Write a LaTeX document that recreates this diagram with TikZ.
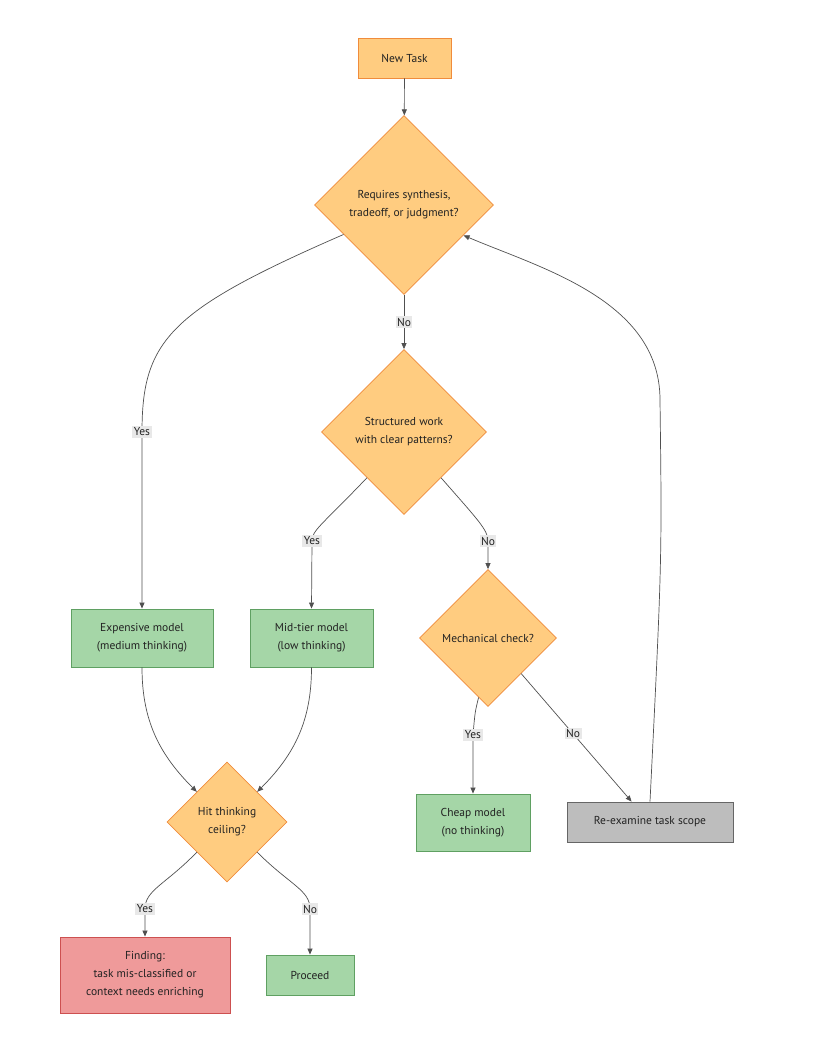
\documentclass[tikz,border=0pt]{standalone}
\usepackage{fontspec}
\setmainfont{PT Sans}
\usepackage{xcolor}
\usepackage{tikz}
\usetikzlibrary{shapes.geometric,arrows.meta}

\definecolor{orangefill}{RGB}{255,204,128}
\definecolor{orangeline}{RGB}{240,140,60}
\definecolor{greenfill}{RGB}{165,214,167}
\definecolor{greenline}{RGB}{95,160,98}
\definecolor{redfill}{RGB}{239,154,154}
\definecolor{redline}{RGB}{205,80,80}
\definecolor{grayfill}{RGB}{189,189,189}
\definecolor{grayline}{RGB}{102,102,102}
\definecolor{textgray}{RGB}{34,34,34}
\definecolor{linkgray}{RGB}{80,80,80}
\definecolor{labelfill}{RGB}{232,232,232}

\begin{document}
\begin{tikzpicture}[x=1pt,y=-1pt,
    font=\fontsize{11.5}{18}\selectfont, text=textgray,
    task node/.style={rectangle,draw=orangeline,fill=orangefill,line width=0.9pt,align=center,inner sep=2pt},
    model node/.style={rectangle,draw=greenline,fill=greenfill,line width=0.9pt,align=center,inner sep=2pt},
    decision node/.style={diamond,draw=orangeline,fill=orangefill,line width=0.8pt,align=center,inner sep=0pt,aspect=1},
    flow/.style={draw=linkgray,line width=0.7pt,-{Triangle[length=6pt,width=5pt]}},
    label node/.style={fill=labelfill,inner sep=1.5pt,text=textgray}]
  \useasboundingbox (0,0) rectangle (814,1060);
        \node[task node,minimum width=93pt,minimum height=40pt] (new) at (404.5,58) {New Task};
        \node[decision node,minimum size=179pt] (d1) at (404,205) {Requires synthesis,\\tradeoff, or judgment?};
        \node[decision node,minimum size=165pt] (d2) at (404,432) {Structured work\\with clear patterns?};
        \node[decision node,minimum size=137pt] (d3) at (488,638) {Mechanical check?};
        \node[model node,minimum width=142pt,minimum height=58pt] (exp) at (142,638) {Expensive model\\(medium thinking)};
        \node[model node,minimum width=123pt,minimum height=58pt] (mid) at (311.5,638) {Mid-tier model\\(low thinking)};
        \node[decision node,minimum size=120pt] (hit) at (227,822) {Hit thinking\\ceiling?};
        \node[model node,minimum width=114pt,minimum height=57pt] (cheap) at (473,822.5) {Cheap model\\(no thinking)};
        \node[rectangle,draw=grayline,fill=grayfill,line width=0.9pt,minimum width=166pt,minimum height=40pt] (scope) at (650,822) {Re-examine task scope};
        \node[rectangle,draw=redline,fill=redfill,line width=0.9pt,align=center,minimum width=170pt,minimum height=76pt] (find) at (145,975) {Finding:\\task mis-classified or\\context needs enriching};
        \node[model node,minimum width=88pt,minimum height=40pt] (proc) at (310,975) {Proceed};
        % links of the first question
        \path
          (new) edge[flow] (d1)
          (d1) edge[flow] node[label node] {No} (d2)
          (d3.313) edge[flow] node[label node,pos=0.47] {No} (scope.132);
        \draw[flow] (d1.206) .. controls (170,310) and (142,340) .. (142,432) node[label node] {Yes} -- (exp.north);
        \draw[flow] (scope.north) .. controls (662,560) .. (660,400) .. controls (660,300) and (540,268) .. (d1.333);
        % second and third question
        \draw[flow] (d2.231) .. controls (322,525) and (312,530) .. (312,541) node[label node] {Yes} -- (mid.north);
        \draw[flow] (d2.309) .. controls (478,520) and (488,530) .. (488,541) node[label node] {No} -- (d3.north);
        \draw[flow] (d3.261) .. controls (475,712) .. (473,735) node[label node] {Yes} -- (cheap.north);
        % thinking ceiling
        \draw[flow] (exp.south) to[out=270,in=135] (hit.north west);
        \draw[flow] (mid.south) to[out=270,in=45] (hit.north east);
        \draw[flow] (hit.south west) .. controls (165,885) and (145,890) .. (145,909) node[label node] {Yes} -- (find.north);
        \draw[flow] (hit.south east) .. controls (290,885) and (310,890) .. (310,909) node[label node] {No} -- (proc.north);
      \end{tikzpicture}
\end{document}
